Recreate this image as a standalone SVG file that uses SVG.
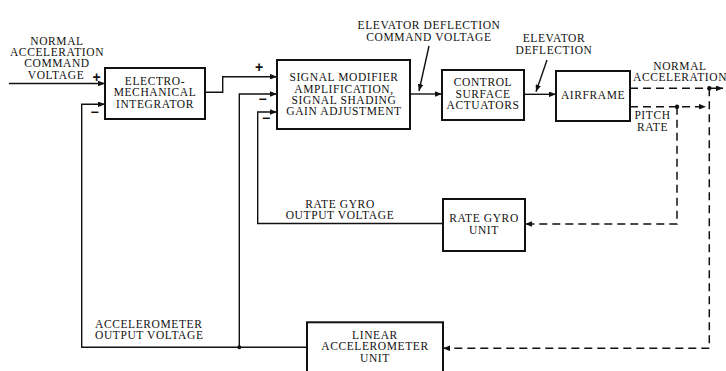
<svg xmlns="http://www.w3.org/2000/svg" width="726" height="371" viewBox="0 0 726 371">
<style>
text{font-family:"Liberation Serif","Times New Roman",serif;font-size:11.5px;letter-spacing:0.6px;fill:#111;text-anchor:middle}
.st{text-anchor:start}
.box{fill:#fff;stroke:#111;stroke-width:2}
.ln{fill:none;stroke:#111;stroke-width:1.4}
.ds{fill:none;stroke:#111;stroke-width:1.5;stroke-dasharray:8 5}
.dot{fill:#111}
.sg{font-family:"Liberation Sans",Arial,sans-serif;font-size:14px;font-weight:bold}
</style>
<defs>
<marker id="ah" viewBox="0 0 10 8" refX="10" refY="4" markerWidth="7" markerHeight="5.6" markerUnits="userSpaceOnUse" orient="auto">
<path d="M0,0 L10,4 L0,8 Z" fill="#111"/>
</marker>
</defs>
<rect width="726" height="371" fill="#fff"/>

<g id="connectors">
<path class="ln" d="M9,83.5 H105" marker-end="url(#ah)"/>
<path class="ln" d="M205,92.3 H222.7 V76.7 H277" marker-end="url(#ah)"/>
<path class="ln" d="M410,94 H442" marker-end="url(#ah)"/>
<path class="ln" d="M524,94.3 H556" marker-end="url(#ah)"/>
<path class="ln" d="M443,223.5 H257.7 V112 H277" marker-end="url(#ah)"/>
<path class="ln" d="M307,347.3 H81.7 V104.3 H105" marker-end="url(#ah)"/>
<path class="ln" d="M239.3,347.3 V94 H277" marker-end="url(#ah)"/>
<circle class="dot" cx="239.3" cy="347.3" r="2"/>
<path class="ln" d="M429,46 L419,91" marker-end="url(#ah)"/>
<path class="ln" d="M547,60 L536,91.7" marker-end="url(#ah)"/>
<path class="ds" d="M630,88.3 H723" marker-end="url(#ah)"/>
<circle class="dot" cx="709.3" cy="88.3" r="2.2"/>
<path class="ds" d="M709.3,88.3 V348.3 H443" marker-end="url(#ah)"/>
<path class="ds" d="M630,106.7 H706" marker-end="url(#ah)"/>
<circle class="dot" cx="677" cy="106.7" r="2.2"/>
<path class="ds" d="M677,106.7 V224 H525" marker-end="url(#ah)"/>
</g>

<g id="labels">
<text x="57" y="44.5">NORMAL</text>
<text x="57" y="56">ACCELERATION</text>
<text x="57" y="67">COMMAND</text>
<text x="56" y="79">VOLTAGE</text>
<text class="sg" x="97" y="82">+</text>
<text class="sg" x="95" y="117">−</text>
<text class="sg" x="259.5" y="72">+</text>
<text class="sg" x="263" y="103.5">−</text>
<text class="sg" x="266.5" y="122.5">−</text>
<text x="429" y="29.3">ELEVATOR DEFLECTION</text>
<text x="429" y="40.5">COMMAND VOLTAGE</text>
<text x="554" y="41.5">ELEVATOR</text>
<text x="554" y="53.5">DEFLECTION</text>
<text x="680" y="70">NORMAL</text>
<text class="st" x="633" y="81">ACCELERATION</text>
<text x="652.5" y="119.3">PITCH</text>
<text x="652.5" y="130.8">RATE</text>
<text x="340" y="207.5">RATE GYRO</text>
<text x="340" y="219">OUTPUT VOLTAGE</text>
<text class="st" x="95" y="327.5">ACCELEROMETER</text>
<text class="st" x="95" y="339.3">OUTPUT VOLTAGE</text>
</g>

<g id="integrator">
<rect class="box" x="105" y="68" width="100" height="51"/>
<text x="155" y="84.5">ELECTRO-</text>
<text x="155" y="96">MECHANICAL</text>
<text x="155" y="107.5">INTEGRATOR</text>
</g>

<g id="signal-modifier">
<rect class="box" x="277" y="60" width="133" height="69"/>
<text x="344" y="81">SIGNAL MODIFIER</text>
<text x="344" y="92.7">AMPLIFICATION,</text>
<text x="344" y="104">SIGNAL SHADING</text>
<text x="344" y="115">GAIN ADJUSTMENT</text>
</g>

<g id="actuators">
<rect class="box" x="442" y="70" width="82" height="50"/>
<text x="483" y="86">CONTROL</text>
<text x="483" y="97.5">SURFACE</text>
<text x="483" y="108.5">ACTUATORS</text>
</g>

<g id="airframe">
<rect class="box" x="556" y="71" width="74" height="50"/>
<text x="593" y="99">AIRFRAME</text>
</g>

<g id="rate-gyro">
<rect class="box" x="443" y="199" width="82" height="52"/>
<text x="484" y="222">RATE GYRO</text>
<text x="484" y="234">UNIT</text>
</g>

<g id="accelerometer">
<rect class="box" x="307" y="322.3" width="136" height="52"/>
<text x="375" y="338.5">LINEAR</text>
<text x="375" y="350">ACCELEROMETER</text>
<text x="375" y="361.5">UNIT</text>
</g>
</svg>
